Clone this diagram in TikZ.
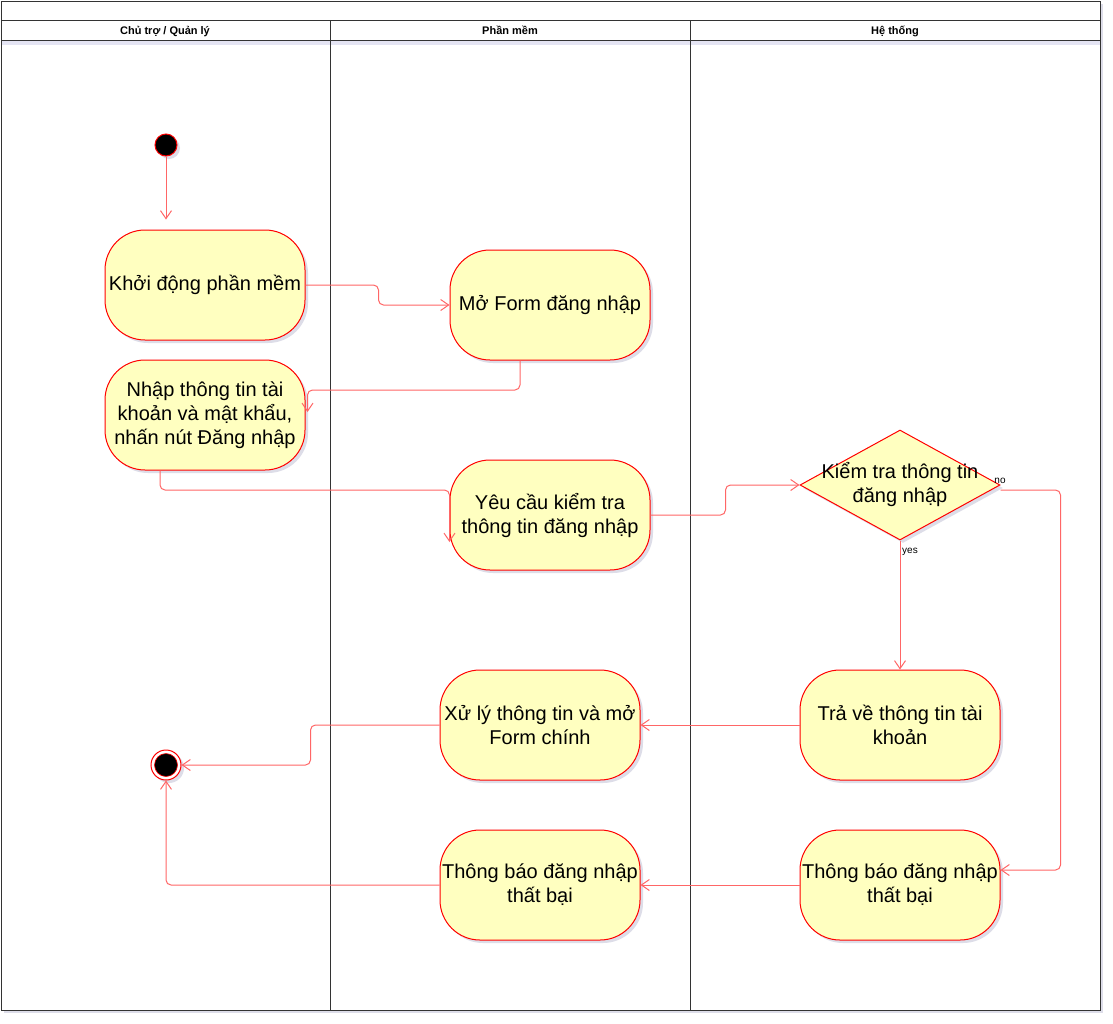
\documentclass[tikz,border=0pt]{standalone}
\usepackage{fontspec}
\setmainfont{Liberation Sans}
\usetikzlibrary{arrows.meta,shapes.geometric,shadows,calc}
\definecolor{boxfill}{HTML}{FFFFC0}
\definecolor{edgered}{HTML}{FF0000}
\definecolor{linkred}{HTML}{FF6666}
\definecolor{lanegray}{HTML}{333333}
\begin{document}
\begin{tikzpicture}[x=1pt,y=-1pt,
  shad/.style={drop shadow={shadow xshift=3pt,shadow yshift=-3pt,opacity=0.22,fill=gray!80!blue}},
  act/.style={rectangle, rounded corners=40pt, draw=edgered, fill=boxfill, line width=1pt,
    minimum width=200pt, minimum height=110pt, inner sep=0pt, align=center,
    font=\fontsize{20}{24}\selectfont, shad},
  flow/.style={draw=linkred, line width=1pt, rounded corners=5pt,
    -{Straight Barb[length=8pt,width=11pt]}},
  lane/.style={draw=lanegray, line width=1pt},
  head/.style={font=\bfseries\fontsize{11}{13}\selectfont, text=black, anchor=base, inner sep=0pt},
  lbl/.style={font=\fontsize{10}{12}\selectfont, text=black, inner sep=0pt}
]
\useasboundingbox (0,0) rectangle (1113,1023);
% pool and lanes
\draw[lane, fill=white, shad] (1,1) rectangle (1100,1010);
\fill[gray!60!blue, opacity=0.15] (2,41) rectangle (1100,45);
\draw[lane] (1,20) -- (1100,20);
\draw[lane] (1,40) -- (1100,40);
\draw[lane] (330,20) -- (330,1010);
\draw[lane] (690,20) -- (690,1010);
\node[head] (h1) at (165,34) {Chủ trợ / Quản lý};
\node[head] (h2) at (510,34) {Phần mềm};
\node[head] (h3) at (895,34) {Hệ thống};
% nodes
\node[circle, draw=edgered, fill=black, line width=1pt, minimum size=22pt, inner sep=0pt, shad] (start) at (166,145) {};
\node[act] (kd) at (205,285) {Khởi động phần mềm};
\node[act] (mo) at (550,305) {Mở Form đăng nhập};
\node[act] (nhap) at (205,415) {Nhập thông tin tài\\khoản và mật khẩu,\\nhấn nút Đăng nhập};
\node[act] (yc) at (550,515) {Yêu cầu kiểm tra\\thông tin đăng nhập};
\node[diamond, draw=edgered, fill=boxfill, line width=1pt, minimum width=200pt, minimum height=110pt, inner sep=0pt, shad] (chk) at (900,485) {};
\node[align=center, font=\fontsize{20}{24}\selectfont, inner sep=0pt] (chkt) at (900,484) {Kiểm tra thông tin\\đăng nhập};
\node[act] (tra) at (900,725) {Trả về thông tin tài\\khoản};
\node[act] (xl) at (540,725) {Xử lý thông tin và mở\\Form chính};
\node[act] (tbr) at (900,885) {Thông báo đăng nhập\\thất bại};
\node[act] (tbl) at (540,885) {Thông báo đăng nhập\\thất bại};
\node[circle, draw=edgered, fill=white, line width=1pt, minimum size=30pt, inner sep=0pt, shad] (end) at (166,765) {};
\fill[black, draw=edgered, line width=0.6pt] (end.center) circle (11.5pt);
% connectors
\coordinate (n3) at ([xshift=2pt,yshift=3pt]nhap.east);
\coordinate (n4) at ([yshift=-27pt]yc.west);
\draw[flow, shorten >=10pt] (start.south) -- (start.south |- kd.north);
\draw[flow] (kd.east) -- ++(73,0) |- (mo.west);
\draw[flow] ([xshift=-30pt]mo.south) |- ([yshift=22pt]n3) -- (n3);
\draw[flow] ([xshift=-45pt]nhap.south) |- ([yshift=52pt]n4) -- (n4);
\draw[flow] (yc.east) -- ++(75,0) |- (chk.west);
\draw[flow] ([yshift=-5pt]chk.east) -- ++(60,0) |- ([yshift=15pt]tbr.east);
\draw[flow] (chk.south) -- (tra.north);
\draw[flow] (tra.west) -- (xl.east);
\draw[flow] (xl.west) -- ++(-129,0) |- (end.east);
\draw[flow] (tbr.west) -- (tbl.east);
\draw[flow] (tbl.west) -| (end.south);
\node[lbl] (yes) at (910,552) {yes};
\node[lbl] (no) at (1000,481) {no};
\end{tikzpicture}
\end{document}
